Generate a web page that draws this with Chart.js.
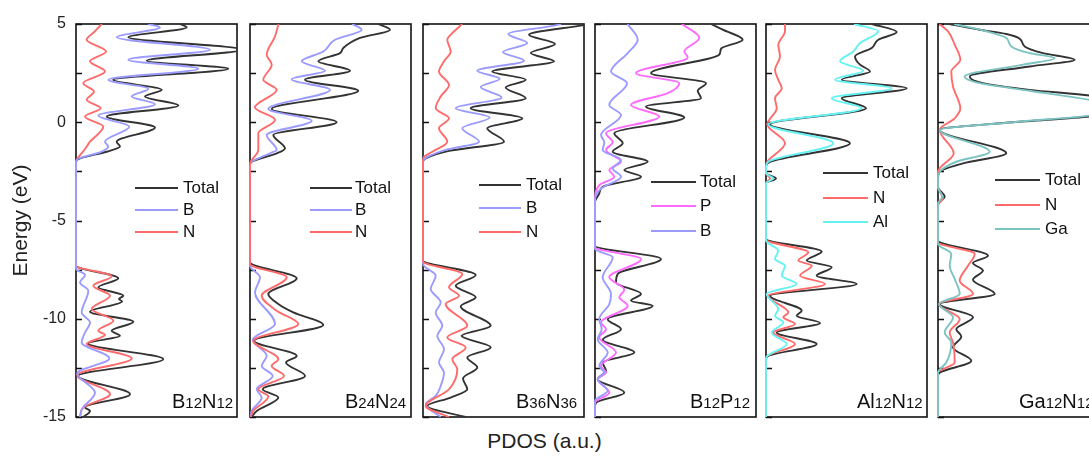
<!DOCTYPE html>
<html><head><meta charset="utf-8">
<script src="https://cdn.jsdelivr.net/npm/chart.js@4"></script>
<style>
html,body{margin:0;padding:0;background:#fff;overflow:hidden;}
#wrap{position:relative;width:1089px;height:457px;overflow:hidden;background:#fff;}
#wrap canvas{position:absolute;top:0;}
#xt{position:absolute;left:0;width:1089px;text-align:center;top:429px;font:21px "Liberation Sans",Arial,sans-serif;color:#222;}
</style></head><body>
<div id="wrap"><div id="xt">PDOS (a.u.)</div></div>
<script>
// ---------- data: [energy (eV), PDOS (a.u.)] ----------
const energyMin = -15, energyMax = 5;
const energyTickLabels = [5, 0, -5, -10, -15];
const tickValues = [5, 2.5, 0, -2.5, -5, -7.5, -10, -12.5, -15];
const panelNames = ['B12N12', 'B24N24', 'B36N36', 'B12P12', 'Al12N12', 'Ga12N12'];

const b12n12Total = [[5.0,10.4],[4.83,11.07],[4.32,5.23],[3.69,16.6],[3.13,7.07],[2.72,15.23],[2.16,3.73],[1.65,8.57],[1.31,6.9],[0.85,10.23],[0.29,3.07],[-0.27,7.9],[-0.99,4.07],[-1.24,4.4],[-1.5,3.07],[-1.84,0.4],[-2.01,0],[-7.3,0],[-7.94,4.23],[-8.4,2.23],[-8.83,4.73],[-9.0,4.3],[-9.12,4.6],[-9.64,1.4],[-10.15,5.73],[-10.61,3.57],[-10.87,4.4],[-11.26,1.23],[-12.06,8.73],[-12.91,0.23],[-13.84,5.4],[-14.52,0.9],[-14.69,1.4],[-15.0,0.73]];
const b12n12B = [[5.0,7.23],[4.83,8.4],[4.32,4.07],[3.69,13.4],[3.18,5.23],[2.72,12.23],[2.16,3.23],[1.7,7.23],[1.31,5.57],[0.92,7.9],[0.34,2.23],[-0.22,5.33],[-0.99,2.9],[-1.24,3.23],[-1.5,2.57],[-1.92,0.07],[-2.1,0],[-7.47,0],[-7.77,0.9],[-8.15,0.4],[-8.57,1.23],[-9.68,0.57],[-10.19,1.4],[-10.7,0.9],[-11.21,0.57],[-12.02,3.33],[-12.77,0.13],[-13.76,1.9],[-14.61,0.57],[-15.0,0.4]];
const b12n12N = [[5.0,2.57],[4.63,1.9],[4.2,1.07],[3.6,3.0],[3.1,1.4],[2.58,2.9],[1.99,0.73],[1.56,1.8],[1.14,1.07],[0.71,2.47],[0.29,0.9],[-0.22,2.73],[-0.99,1.4],[-1.36,0.9],[-1.92,0.07],[-2.04,0],[-7.3,0],[-7.84,3.57],[-8.32,1.73],[-8.83,3.4],[-9.51,1.57],[-10.1,3.73],[-10.61,2.23],[-10.82,2.9],[-11.29,1.07],[-12.02,5.57],[-12.87,0.13],[-13.84,3.4],[-14.52,0.73],[-15.0,0.4]];

const b24n24Total = [[5.0,12.8],[4.71,14.0],[4.29,11.0],[3.78,9.33],[3.52,9.0],[3.1,6.83],[2.62,10.0],[2.16,5.5],[1.6,10.83],[0.68,2.17],[0.0,8.67],[-0.65,2.33],[-1.33,3.5],[-1.58,2.67],[-2.01,0.17],[-2.18,0],[-7.13,0],[-7.94,4.67],[-8.74,1.83],[-9.25,2.83],[-9.68,4.33],[-10.32,7.33],[-11.12,0.4],[-11.89,4.67],[-12.23,3.6],[-12.91,5.5],[-13.59,1.27],[-14.01,2.83],[-14.69,0.67],[-15.0,0.17]];
const b24n24B = [[5.0,10.2],[4.71,11.17],[4.2,8.5],[3.6,7.33],[3.1,5.17],[2.62,7.5],[2.19,4.17],[1.65,8.0],[0.68,1.83],[0.07,6.17],[-0.65,1.67],[-1.41,2.67],[-1.58,2.0],[-2.01,0.17],[-2.18,0],[-7.3,0],[-7.89,1.0],[-8.66,0.5],[-10.27,2.5],[-11.07,0.27],[-11.89,1.67],[-12.4,1.17],[-12.91,2.27],[-13.59,0.67],[-14.01,1.17],[-14.69,0.17],[-15.0,0.07]];
const b24n24N = [[5.0,2.85],[4.37,2.5],[3.44,1.67],[2.93,2.17],[2.16,1.33],[1.65,2.67],[0.75,0.5],[0.12,2.5],[-0.56,0.83],[-1.41,0.83],[-2.01,0.07],[-2.18,0],[-7.21,0],[-7.89,3.67],[-8.83,1.17],[-9.59,2.67],[-10.27,4.83],[-11.12,0.33],[-12.06,2.83],[-12.4,2.17],[-12.91,3.4],[-13.59,0.83],[-13.96,1.83],[-14.69,0.33],[-15.0,0.07]];

const b36n36Total = [[5.05,17.5],[4.93,15.93],[4.45,10.6],[3.98,13.2],[3.52,10.77],[3.1,13.1],[2.58,6.93],[2.16,10.27],[1.77,8.27],[1.22,10.27],[0.71,4.77],[0.2,9.93],[-0.31,6.43],[-0.99,8.1],[-1.46,2.6],[-1.84,0.27],[-2.01,0],[-7.04,0],[-7.77,5.27],[-8.32,3.27],[-8.91,5.27],[-9.37,3.77],[-10.36,6.77],[-10.87,3.87],[-11.46,6.77],[-11.97,4.43],[-12.48,5.43],[-13.04,4.0],[-13.59,4.43],[-14.01,2.77],[-14.44,0.43],[-15.0,4.27]];
const b36n36B = [[5.0,13.8],[4.93,13.27],[4.49,8.53],[4.03,10.43],[3.57,8.0],[3.13,10.1],[2.62,5.43],[2.21,7.67],[1.79,5.77],[1.26,7.87],[0.71,3.27],[0.24,6.67],[-0.31,3.93],[-0.99,5.6],[-1.41,2.27],[-1.84,0.2],[-2.01,0],[-7.21,0],[-7.81,1.27],[-8.49,0.77],[-9.17,1.77],[-9.68,1.27],[-10.36,1.93],[-10.87,1.43],[-11.55,2.1],[-12.23,1.6],[-12.74,2.1],[-13.42,1.77],[-13.93,1.27],[-14.35,0.27],[-15.0,1.77]];
const b36n36N = [[5.0,3.9],[4.93,3.77],[4.54,2.93],[4.2,2.43],[3.6,2.77],[3.1,2.1],[2.58,1.6],[1.9,2.6],[1.31,1.77],[0.71,1.27],[0.2,2.6],[-0.31,1.6],[-0.99,2.43],[-1.5,0.93],[-1.75,0.1],[-1.92,0],[-7.09,0],[-7.72,3.93],[-8.4,2.6],[-8.83,3.6],[-9.25,2.27],[-10.36,4.43],[-10.95,2.43],[-11.46,4.27],[-12.06,2.93],[-12.57,3.43],[-13.59,2.6],[-14.44,0.27],[-15.0,2.6]];

const b12p12Total = [[5.0,11.6],[4.71,12.77],[4.2,14.77],[3.74,12.6],[3.44,12.43],[2.5,5.6],[1.99,11.1],[1.6,10.27],[1.22,10.6],[0.8,5.1],[0.24,8.93],[-0.56,1.93],[-1.07,2.77],[-1.5,1.77],[-2.01,5.27],[-2.43,2.93],[-2.77,4.6],[-3.28,0.77],[-3.62,0.43],[-4.05,0],[-6.28,0],[-6.96,6.6],[-7.72,2.27],[-8.15,2.1],[-8.74,4.6],[-9.08,3.6],[-9.34,5.77],[-10.02,1.27],[-10.53,2.6],[-11.07,0.77],[-11.72,3.93],[-12.23,0.77],[-12.65,1.1],[-13.08,0.27],[-13.76,2.93],[-14.27,0.1],[-14.52,0],[-15.0,0]];
const b12p12P = [[5.0,8.7],[4.29,10.43],[3.6,8.93],[3.3,9.27],[2.5,4.1],[1.99,8.43],[1.48,7.27],[0.88,3.6],[0.29,6.43],[-0.56,1.1],[-1.02,1.77],[-1.41,1.1],[-2.01,2.6],[-2.43,1.43],[-2.77,1.93],[-3.2,0.43],[-3.96,0],[-6.36,0],[-6.96,4.6],[-7.89,1.43],[-8.52,2.93],[-8.91,2.43],[-9.34,3.27],[-10.19,0.6],[-10.53,1.1],[-10.95,0.43],[-11.72,2.1],[-12.4,0.6],[-12.74,1.1],[-13.08,0.27],[-13.76,1.43],[-14.27,0],[-15.0,0]];
const b12p12B = [[5.0,3.25],[4.2,4.27],[3.52,3.27],[2.58,1.6],[1.99,3.2],[0.88,1.43],[0.37,2.6],[-0.65,0.6],[-1.02,0.93],[-1.41,0.77],[-1.92,2.6],[-2.35,1.77],[-2.77,2.6],[-3.37,0.6],[-3.96,0],[-6.45,0],[-6.87,1.77],[-7.89,0.77],[-8.74,1.6],[-9.25,1.43],[-10.02,0.43],[-10.53,0.67],[-11.04,0.27],[-11.72,1.27],[-12.4,0.43],[-12.74,0.93],[-13.08,0.27],[-13.67,1.27],[-14.18,0],[-15.0,0]];

const al12n12Total = [[5.0,10.6],[4.59,13.07],[4.2,11.23],[3.78,10.57],[3.35,8.9],[2.93,9.4],[2.58,10.4],[2.16,7.57],[1.73,14.07],[1.22,7.57],[0.71,10.0],[-0.1,0.4],[-1.07,8.4],[-2.01,0.4],[-2.26,0],[-2.6,0],[-2.86,1.0],[-3.1,0],[-5.94,0],[-6.58,5.57],[-7.04,4.07],[-7.38,6.57],[-7.81,5.07],[-8.23,9.07],[-8.83,0.4],[-9.59,3.57],[-9.85,3.07],[-10.22,5.4],[-10.7,1.07],[-11.29,5.07],[-11.89,0.23],[-12.06,0],[-15.0,0]];
const al12n12N = [[5.0,1.9],[4.63,1.9],[3.95,1.23],[3.35,1.4],[2.67,0.9],[2.16,1.23],[1.73,1.57],[1.22,0.9],[0.71,1.07],[-0.1,0.13],[-1.07,1.9],[-2.01,0.13],[-2.26,0],[-2.6,0],[-2.86,0.4],[-3.1,0],[-5.97,0],[-6.62,4.23],[-7.04,3.23],[-7.3,4.57],[-7.81,3.4],[-8.23,5.9],[-8.83,0.23],[-9.68,2.23],[-9.93,1.73],[-10.27,2.9],[-10.7,0.73],[-11.29,2.9],[-11.89,0.13],[-12.06,0],[-15.0,0]];
const al12n12Al = [[5.0,8.8],[4.63,11.23],[4.03,9.4],[3.6,8.73],[3.1,7.4],[2.62,9.73],[2.16,6.9],[1.73,12.57],[1.22,6.57],[0.71,9.57],[-0.1,0.23],[-1.07,6.73],[-2.01,0.23],[-2.26,0],[-2.6,0],[-2.86,0.73],[-3.1,0],[-6.02,0],[-6.53,1.23],[-6.96,0.9],[-7.3,1.9],[-7.81,1.57],[-8.23,3.07],[-8.74,0.07],[-9.51,1.23],[-9.85,0.9],[-10.19,1.73],[-10.7,0.57],[-11.29,2.07],[-11.89,0.13],[-12.06,0],[-15.0,0]];

const ga12n12Total = [[5.0,1.1],[4.71,4.17],[4.49,6.83],[4.25,8.17],[3.86,8.67],[3.52,10.5],[3.18,13.67],[2.84,9.17],[2.33,3.17],[1.99,4.5],[1.65,9.17],[1.36,15.17],[0.85,21],[0.29,15.17],[0.0,7.5],[-0.39,0.17],[-1.58,6.83],[-2.09,2.5],[-2.52,0.17],[-2.86,0],[-3.3,0],[-3.79,0.67],[-4.13,0],[-6.02,0],[-6.79,5.0],[-7.16,3.5],[-7.55,4.5],[-8.01,3.5],[-8.74,5.67],[-9.25,0.17],[-9.93,3.5],[-10.53,1.83],[-10.9,2.33],[-11.46,1.5],[-12.14,3.33],[-12.74,0.17],[-12.91,0],[-15.0,0]];
const ga12n12N = [[5.0,0.15],[4.63,1.0],[3.95,1.67],[3.18,2.23],[2.58,1.33],[1.82,1.5],[0.71,2.23],[0.2,1.67],[-0.39,0.17],[-1.58,1.57],[-2.52,0],[-3.3,0],[-3.88,0.5],[-4.22,0],[-6.11,0],[-6.7,3.67],[-7.3,3.0],[-8.06,2.17],[-8.74,3.5],[-9.25,0.1],[-10.02,2.17],[-10.7,1.17],[-11.21,1.5],[-12.23,1.67],[-12.74,0],[-15.0,0]];
const ga12n12Ga = [[5.0,1.6],[4.63,4.83],[4.29,6.83],[3.86,7.33],[3.52,9.17],[3.26,11.67],[2.93,8.5],[2.33,2.67],[1.99,4.17],[1.6,9.17],[1.14,15.17],[0.8,19],[0.34,15.17],[0.0,7.5],[-0.39,0.17],[-1.5,5.17],[-2.01,1.83],[-2.52,0.17],[-2.86,0],[-3.3,0],[-3.79,0.43],[-4.13,0],[-6.19,0],[-6.7,1.33],[-7.3,1.17],[-7.98,1.67],[-8.74,2.17],[-9.25,0.1],[-9.93,1.5],[-10.7,0.67],[-11.21,1.33],[-12.23,0.83],[-12.74,0],[-15.0,0]];

// ---------- styles ----------
const FONT = '"Liberation Sans", Arial, sans-serif';
const C = { total:'#333333', B:'#9b9bff', N:'#ff6b6b', P:'#ff6bff', Al:'#66f2f2', Ga:'#7cc4c2' };
const BOX = { top: 24, bottom: 417, width: 161, height: 457 };

const panels = [
  { name: panelNames[0], left: 76,  series: [['Total', b12n12Total, C.total], ['B', b12n12B, C.B], ['N', b12n12N, C.N]], top: 1,
    legend: { x: 59, len: 43, tx: 107, rows: [188, 210, 232] }, labelX: 96 },
  { name: panelNames[1], left: 250, series: [['Total', b24n24Total, C.total], ['B', b24n24B, C.B], ['N', b24n24N, C.N]], top: 2,
    legend: { x: 60, len: 42, tx: 105, rows: [188, 210, 232] }, labelX: 95 },
  { name: panelNames[2], left: 423, series: [['Total', b36n36Total, C.total], ['B', b36n36B, C.B], ['N', b36n36N, C.N]], top: 2,
    legend: { x: 56, len: 42, tx: 103, rows: [185, 208, 232] }, labelX: 93 },
  { name: panelNames[3], left: 595, series: [['Total', b12p12Total, C.total], ['P', b12p12P, C.P], ['B', b12p12B, C.B]], top: 2,
    legend: { x: 56, len: 45, tx: 105, rows: [182, 206, 231] }, labelX: 95 },
  { name: panelNames[4], left: 766, series: [['Total', al12n12Total, C.total], ['N', al12n12N, C.N], ['Al', al12n12Al, C.Al]], top: 2,
    legend: { x: 57, len: 45, tx: 107, rows: [173, 198, 222] }, labelX: 91 },
  { name: panelNames[5], left: 938, series: [['Total', ga12n12Total, C.total], ['N', ga12n12N, C.N], ['Ga', ga12n12Ga, C.Ga]], top: 2,
    legend: { x: 57, len: 45, tx: 107, rows: [180, 205, 229] }, labelX: 81 }
];

const framePlugin = {
  id: 'frame',
  beforeDatasetsDraw(chart) {
    const { ctx, chartArea: a, scales: { y } } = chart;
    ctx.save();
    ctx.strokeStyle = '#111';
    ctx.lineWidth = 1.6;
    ctx.strokeRect(a.left, a.top, a.right - a.left, a.bottom - a.top);
    ctx.beginPath();
    tickValues.forEach(v => {
      const py = Math.round(y.getPixelForValue(v)) + 0.5;
      ctx.moveTo(a.left, py); ctx.lineTo(a.left + 6, py);
    });
    ctx.stroke();
    ctx.restore();
  }
};

const pdosLegend = {
  id: 'pdosLegend',
  afterDraw(chart, args, opts) {
    const { ctx, chartArea: a } = chart;
    ctx.save();
    ctx.font = '17px ' + FONT;
    ctx.textBaseline = 'middle';
    ctx.textAlign = 'left';
    chart.data.datasets.forEach((ds, i) => {
      const yy = opts.rows[i];
      ctx.strokeStyle = ds.borderColor;
      ctx.lineWidth = 1.9;
      ctx.beginPath();
      ctx.moveTo(a.left + opts.x, yy); ctx.lineTo(a.left + opts.x + opts.len, yy);
      ctx.stroke();
      ctx.fillStyle = '#111';
      ctx.fillText(ds.label, a.left + opts.tx, yy);
    });
    let x = a.left + opts.labelX;
    const base = 408;
    ctx.textBaseline = 'alphabetic';
    ctx.fillStyle = '#111';
    (opts.name.match(/\d+|\D+/g) || []).forEach(run => {
      ctx.font = (/\d/.test(run) ? '15px ' : '20px ') + FONT;
      ctx.fillText(run, x, base);
      x += ctx.measureText(run).width;
    });
    ctx.restore();
  }
};

const wrap = document.getElementById('wrap');
panels.forEach((p, idx) => {
  const first = idx === 0;
  const canvas = document.createElement('canvas');
  const cLeft = first ? 0 : p.left - 2;
  const cWidth = first ? p.left + BOX.width + 2 : BOX.width + 4;
  canvas.width = cWidth; canvas.height = BOX.height;
  canvas.style.left = cLeft + 'px';
  canvas.style.width = cWidth + 'px'; canvas.style.height = BOX.height + 'px';
  wrap.appendChild(canvas);

  const datasets = p.series.map(([label, pts, color], i) => ({
    label,
    data: pts.map(([e, d]) => ({ x: d, y: e })),
    borderColor: color,
    backgroundColor: color,
    borderWidth: 1.9,
    pointRadius: 0,
    fill: false,
    cubicInterpolationMode: 'monotone',
    order: i === p.top ? 0 : (i === 0 ? 2 : 1),
    clip: { left: 2, top: 0, right: 0, bottom: 0 }
  }));

  const yScale = {
    type: 'linear', min: energyMin, max: energyMax, display: first,
    grid: { display: false, drawTicks: false },
    border: { display: false }
  };
  if (first) {
    Object.assign(yScale, {
      afterFit: s => { s.width = p.left; },
      afterBuildTicks: s => { s.ticks = energyTickLabels.map(v => ({ value: v })); },
      ticks: { color: '#222', padding: 10, font: { size: 16, family: FONT }, callback: v => String(v) },
      title: { display: true, text: 'Energy (eV)', color: '#222', font: { size: 21, family: FONT }, padding: { top: 9, bottom: 0 } }
    });
  }

  new Chart(canvas, {
    type: 'line',
    data: { datasets },
    options: {
      responsive: false,
      animation: false,
      indexAxis: 'y',
      devicePixelRatio: 1,
      layout: { padding: { left: first ? 0 : 2, right: 2, top: BOX.top, bottom: BOX.height - BOX.bottom } },
      plugins: {
        legend: { display: false },
        tooltip: { enabled: false },
        pdosLegend: Object.assign({ name: p.name, labelX: p.labelX }, p.legend)
      },
      scales: {
        x: { type: 'linear', min: 0, max: 16.1, display: false },
        y: yScale
      }
    },
    plugins: [framePlugin, pdosLegend]
  });
});
</script>
</body></html>
